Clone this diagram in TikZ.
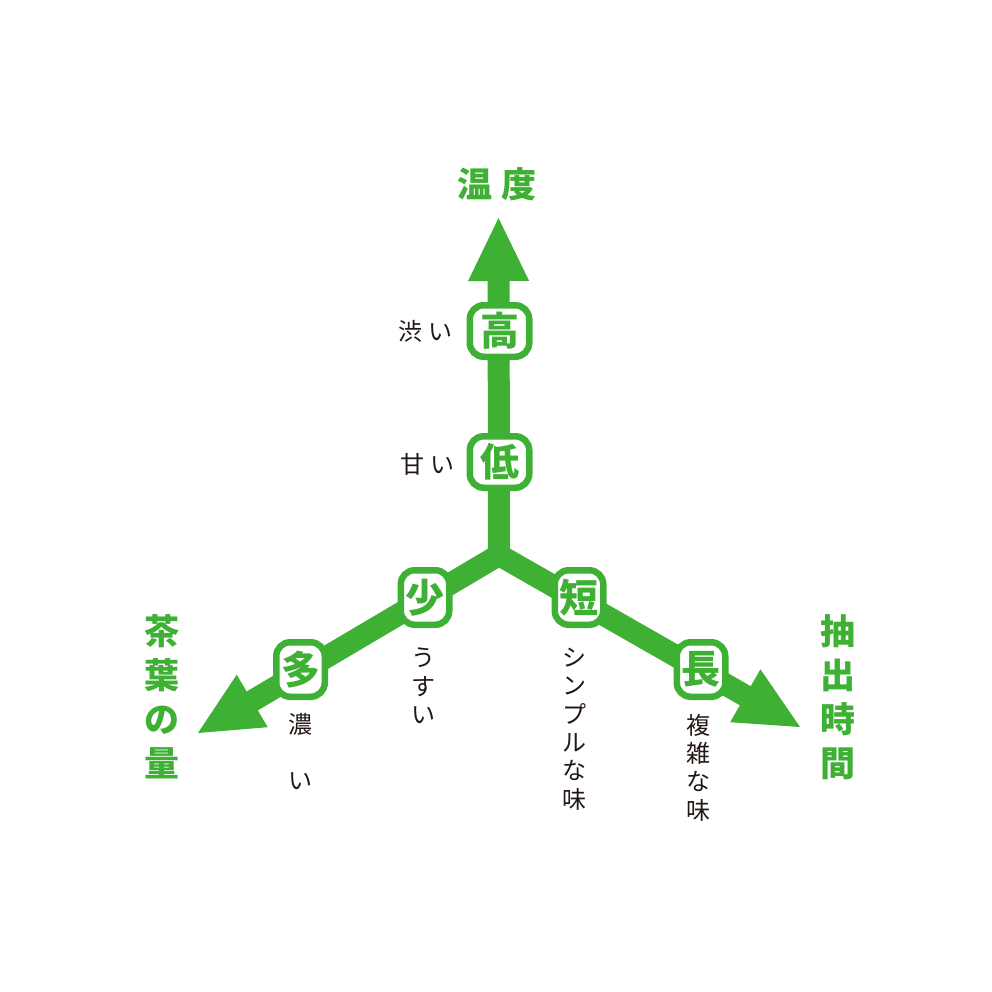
\documentclass[tikz,border=0pt]{standalone}
\usepackage{fontspec}
\newfontfamily\cjk{Noto Sans CJK JP}
\usetikzlibrary{calc}
\definecolor{chagreen}{RGB}{62,176,52}
\definecolor{sumi}{RGB}{35,24,21}
\def\headlen{63pt}
\def\headhalf{30.5pt}
\def\arrowhead(#1)(#2){\coordinate (hb) at ($(#1)!\headlen!(#2)$);
	\fill[chagreen] (#1) -- ($(hb)!\headhalf!90:(#1)$) -- ($(hb)!\headhalf!-90:(#1)$) -- cycle;}

\tikzset{
	axisline/.style={line width=22pt, color=chagreen, line join=miter},
	levelbox/.style={draw=chagreen, line width=6.5pt, fill=white, rounded corners=14pt, inner sep=0pt,
		text=chagreen, font=\cjk\bfseries\fontsize{39pt}{39pt}\selectfont},
	widebox/.style={levelbox, minimum width=59.5pt, minimum height=51.5pt},
	tallbox/.style={levelbox, minimum width=48.5pt, minimum height=54.5pt},
	axistitle/.style={text=chagreen, inner sep=0pt, align=center, font=\cjk\bfseries\fontsize{35pt}{44pt}\selectfont},
	tastelabel/.style={text=sumi, inner sep=0pt, align=center, font=\cjk\fontsize{24pt}{28.4pt}\selectfont}
}

\begin{document}
\begin{tikzpicture}[x=1pt, y=-1pt]
			%%%%% START %%%%%
			
			\fill[white] (0, 0) rectangle (992, 992);
			\useasboundingbox (0, 0) rectangle (992, 992);
			
			\coordinate (ctr) at (499, 555);
			\coordinate (ttip) at (498.5, 218);
			\coordinate (ltip) at (198, 733);
			\coordinate (rtip) at (800, 727);
			
			\draw[axisline] ($(ltip)!50pt!(ctr)$) -- (ctr) -- ($(rtip)!50pt!(ctr)$);
			\draw[axisline] (ctr) -- ($(ttip)!50pt!(ctr)$);
			\arrowhead(ttip)(ctr)
			\arrowhead(ltip)(ctr)
			\arrowhead(rtip)(ctr)
			
			\node[widebox] (high) at (499.5, 331) {高};
			\node[widebox] (low) at (499.5, 462) {低};
			\node[tallbox] (few) at (425, 597.5) {少};
			\node[tallbox] (many) at (300.5, 669.5) {多};
			\node[tallbox] (short) at (579, 597.5) {短};
			\node[tallbox] (long) at (701, 669.5) {長};
			
			\node[axistitle] (temp) at (497, 184) {温\hspace{10pt}度};
			\node[axistitle] (leaves) at (161.5, 697) {茶\\葉\\の\\量};
			\node[axistitle] (brew) at (837.5, 697) {抽\\出\\時\\間};
			
			\node[tastelabel] (shibui) at (425.5, 331) {渋\hspace{6pt}い};
			\node[tastelabel] (amai) at (427, 464) {甘\hspace{6pt}い};
			\node[tastelabel] (usui) at (423, 686) {う\\す\\い};
			\node[tastelabel] (koi) at (300, 751.5) {濃\\[28.5pt]い};
			\node[tastelabel] (simple) at (574, 729) {シ\\ン\\プ\\ル\\な\\味};
			\node[tastelabel] (complex) at (698.5, 767.5) {複\\雑\\な\\味};
			
			%%%%% END %%%%%
\end{tikzpicture}
\end{document}
